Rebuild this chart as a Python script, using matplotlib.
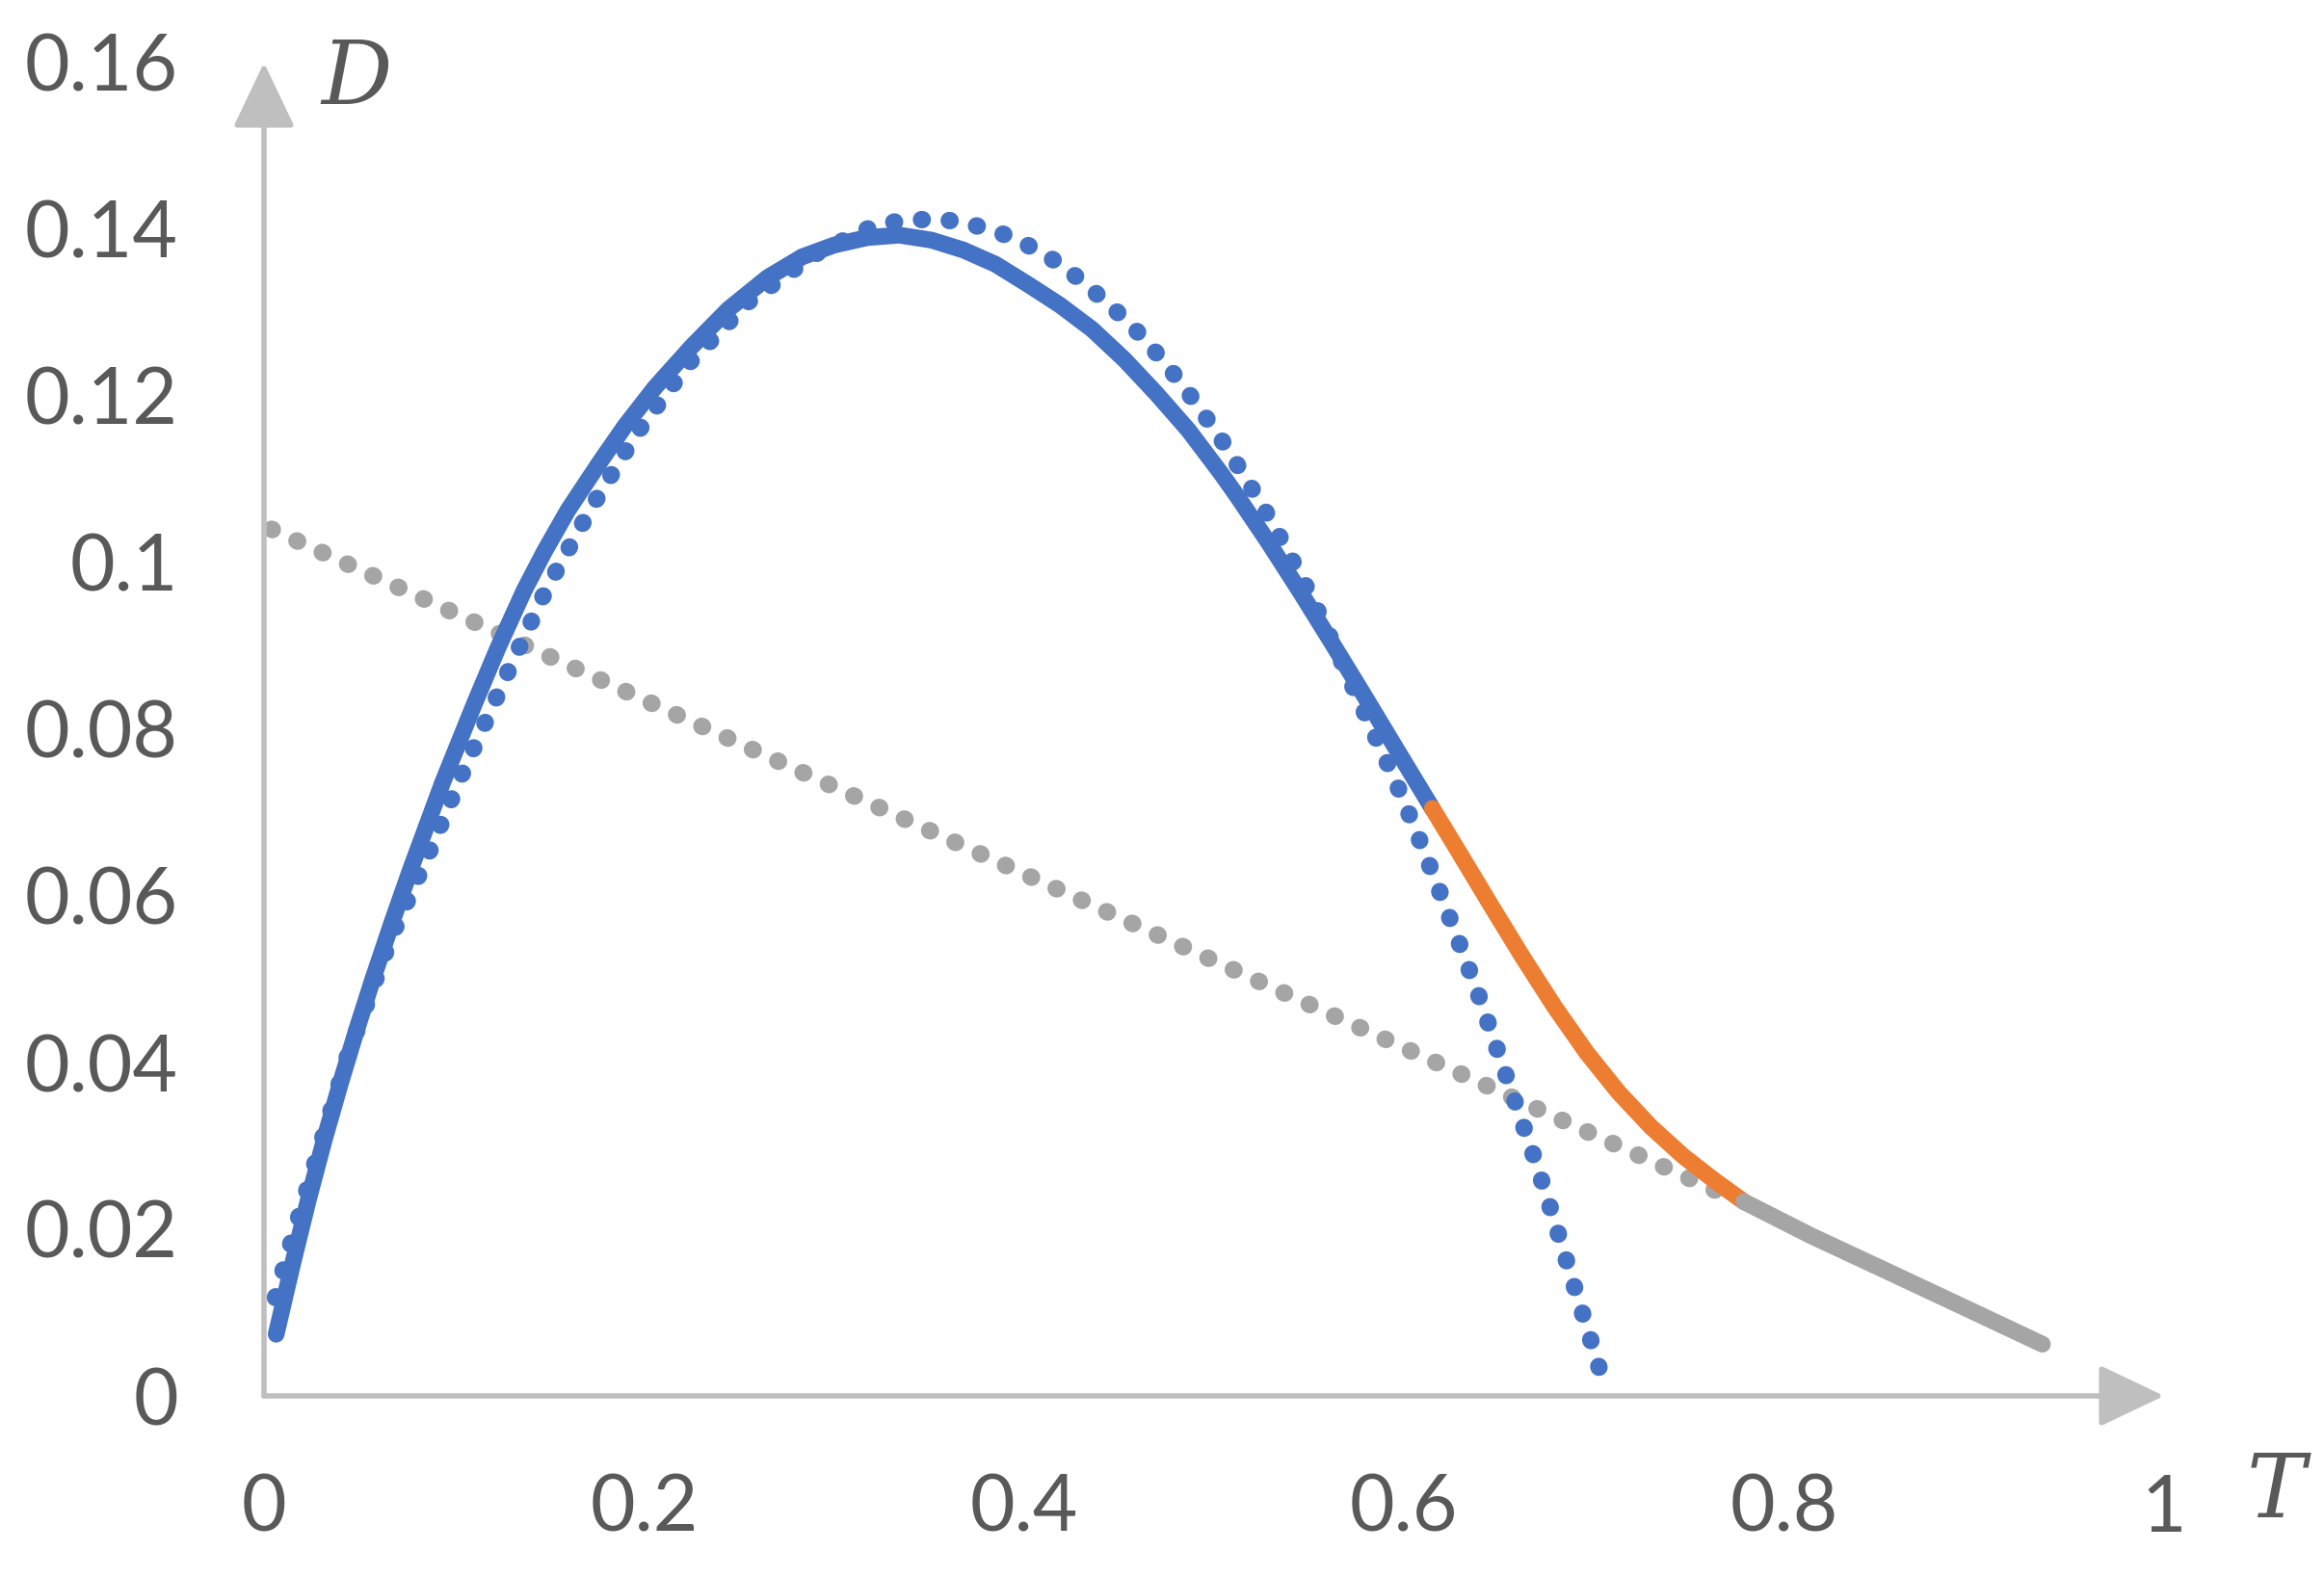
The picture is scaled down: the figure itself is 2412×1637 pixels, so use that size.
import matplotlib
matplotlib.use("Agg")
from matplotlib import pyplot as plt

# readings from the chart: T on x, D on y
blue_T = [0.0064, 0.0149, 0.0233, 0.0318, 0.0402, 0.0487, 0.0571, 0.0673, 0.077, 0.094,
          0.111, 0.123, 0.137, 0.1475, 0.160, 0.1766, 0.190, 0.2057, 0.225, 0.2444,
          0.265, 0.2833, 0.300, 0.3174, 0.3343, 0.3513, 0.3682, 0.385, 0.402, 0.4189,
          0.4358, 0.4527, 0.4696, 0.4865, 0.5034, 0.5118, 0.5287, 0.5456, 0.5625, 0.5794,
          0.5963, 0.6149]
blue_D = [0.0074, 0.0157, 0.0235, 0.0308, 0.0375, 0.0439, 0.0499, 0.0568, 0.0631, 0.0736,
          0.0832, 0.0897, 0.0967, 0.1013, 0.1063, 0.1120, 0.1164, 0.1210, 0.1259, 0.1304,
          0.1342, 0.1367, 0.1381, 0.1390, 0.1393, 0.1387, 0.1375, 0.1358, 0.1334, 0.1309,
          0.1280, 0.1244, 0.1203, 0.1159, 0.1108, 0.1081, 0.1024, 0.0964, 0.0902, 0.0839,
          0.0775, 0.0705]

orange_T = [0.6149, 0.6285, 0.6454, 0.6623, 0.6792, 0.6961, 0.7130, 0.7299, 0.7468, 0.7637,
            0.7789]
orange_D = [0.0705, 0.0654, 0.0590, 0.0527, 0.0467, 0.0412, 0.0364, 0.0323, 0.0288, 0.0258,
            0.0233]

gray_T = [0.7789, 0.8144, 0.852, 0.895, 0.936]
gray_D = [0.0233, 0.0192, 0.0152, 0.0106, 0.0062]

fit_T = [0.006, 0.015, 0.028, 0.044, 0.067, 0.087, 0.104, 0.130, 0.149, 0.172,
         0.196, 0.2235, 0.255, 0.290, 0.320, 0.3343, 0.3492, 0.3642, 0.3788, 0.3931,
         0.407, 0.4199, 0.4319, 0.4435, 0.4552, 0.4653, 0.4751, 0.4848, 0.4936, 0.5029,
         0.511, 0.5191, 0.527, 0.5346, 0.549, 0.565, 0.582, 0.5943, 0.6056, 0.617,
         0.628, 0.6391, 0.6484, 0.6589, 0.669, 0.6778, 0.6826, 0.6918, 0.7003, 0.7045]
fit_D = [0.0118, 0.0190, 0.0288, 0.0408, 0.0551, 0.0653, 0.0745, 0.0877, 0.0970, 0.1065,
         0.1155, 0.1239, 0.1313, 0.1370, 0.1403, 0.1410, 0.1412, 0.1410, 0.1402, 0.1391,
         0.1375, 0.1357, 0.1335, 0.1312, 0.1288, 0.1263, 0.1237, 0.1209, 0.1181, 0.1151,
         0.1122, 0.1092, 0.1062, 0.1031, 0.0969, 0.0892, 0.0806, 0.0744, 0.0682, 0.0616,
         0.0550, 0.0482, 0.0420, 0.0350, 0.0283, 0.0220, 0.0184, 0.0115, 0.0052, 0.0020]

line_T = [0.004, 0.775]
line_D = [0.1040, 0.0235]

xticks = [0, 0.2, 0.4, 0.6, 0.8, 1]
xtick_labels = ['0', '0.2', '0.4', '0.6', '0.8', '1']
yticks = [0, 0.02, 0.04, 0.06, 0.08, 0.1, 0.12, 0.14, 0.16]
ytick_labels = ['0', '0.02', '0.04', '0.06', '0.08', '0.1', '0.12', '0.14', '0.16']

BLUE = '#4472C4'
ORANGE = '#ED7D31'
GRAY = '#A5A5A5'
AXIS = '#BFBFBF'
TEXT = '#595959'

plt.rcParams['font.family'] = ['Lato', 'DejaVu Sans']

fig = plt.figure(figsize=(24.12, 16.37), dpi=100)
ax = fig.add_axes([274 / 2412, 188 / 1637, 1972 / 2412, 1384 / 1637])
ax.set_xlim(0, 1)
ax.set_ylim(0, 0.16)

dots = dict(linestyle=(0, (0.05, 1.55)), dash_capstyle='round', linewidth=13)
ax.plot(line_T, line_D, color=GRAY, **dots)
ax.plot(fit_T, fit_D, color=BLUE, **dots)

solid = dict(linewidth=12.5, solid_capstyle='round', solid_joinstyle='round')
ax.plot(blue_T, blue_D, color=BLUE, **solid)
ax.plot(orange_T, orange_D, color=ORANGE, **solid)
ax.plot(gray_T, gray_D, color=GRAY, **solid)

# axes drawn as arrows
for sp in ax.spines.values():
    sp.set_visible(False)
arrow = dict(arrowstyle='-|>,head_length=0.42,head_width=0.2', color=AXIS,
             lw=4, shrinkA=0, shrinkB=0, mutation_scale=100)
ax.annotate('', xy=(1, 0), xytext=(0, 0), arrowprops=arrow, annotation_clip=False)
ax.annotate('', xy=(0, 0.16), xytext=(0, 0), arrowprops=arrow, annotation_clip=False)

ax.set_xticks(xticks)
ax.set_xticklabels(xtick_labels)
ax.set_yticks(yticks)
ax.set_yticklabels(ytick_labels)
ax.tick_params(axis='both', length=0, labelsize=58, labelcolor=TEXT)
ax.tick_params(axis='y', pad=64)
ax.tick_params(axis='x', pad=58)

ax.text(0.049, 0.1579, 'D', fontsize=66, fontstyle='italic', family='DejaVu Serif',
        color=TEXT, ha='center', va='center', clip_on=False)
ax.text(1.059, -0.0116, 'T', fontsize=66, fontstyle='italic', family='DejaVu Serif',
        color=TEXT, ha='center', va='center', clip_on=False)

plt.savefig('out.png', dpi=100)
plt.close()
